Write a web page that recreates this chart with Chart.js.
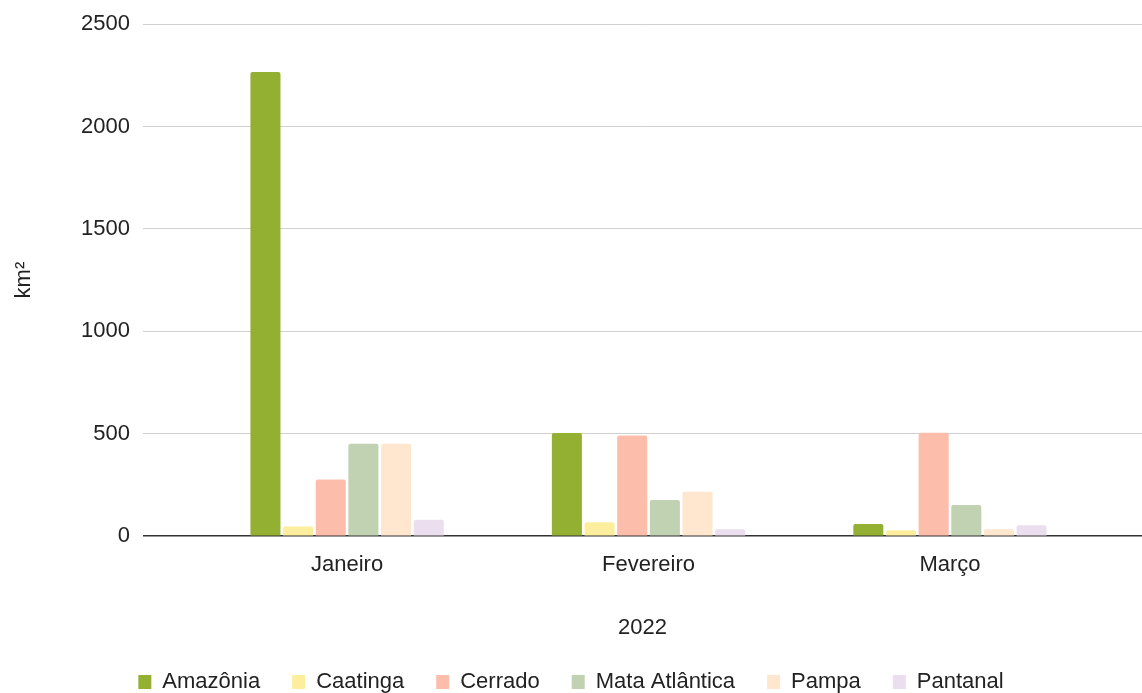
<!DOCTYPE html>
<html>
<head>
<meta charset="utf-8">
<script src="https://cdn.jsdelivr.net/npm/chart.js@4"></script>
<style>
  body { margin: 0; background: #fff; }
  #wrap { width: 1142px; height: 693px; }
</style>
</head>
<body>
<div id="wrap"><canvas id="bar-chart"></canvas></div>
<script>
const months = ["Janeiro", "Fevereiro", "Março"];
const amazonia = [2266, 504, 60];
const caatinga = [47, 68, 29];
const cerrado = [277, 492, 505];
const mataAtlantica = [451, 177, 152];
const pampa = [451, 217, 34];
const pantanal = [80, 34, 54];
const yTicks = [0, 500, 1000, 1500, 2000, 2500];

const toPoints = (values) => values.map((v, i) => ({ x: i, y: v }));

const series = [
  { label: "Amazônia", values: amazonia, color: "#93b033" },
  { label: "Caatinga", values: caatinga, color: "#fdee9e" },
  { label: "Cerrado", values: cerrado, color: "#fdbdab" },
  { label: "Mata Atlântica", values: mataAtlantica, color: "#c0d2b1" },
  { label: "Pampa", values: pampa, color: "#fee6cf" },
  { label: "Pantanal", values: pantanal, color: "#ebdeee" },
];

Chart.defaults.font.family = "'Liberation Sans', Arial, sans-serif";
Chart.defaults.font.size = 22;
Chart.defaults.color = "#222";

new Chart("bar-chart", {
  type: "bar",
  data: {
    datasets: series.map(s => ({
      label: s.label,
      data: toPoints(s.values),
      backgroundColor: s.color,
      borderRadius: 2,
      categoryPercentage: 0.65,
      barPercentage: 0.92,
    }))
  },
  options: {
    animation: false,
    responsive: true,
    maintainAspectRatio: false,
    layout: {
      padding: { left: 0, right: 0, top: 10, bottom: -10 }
    },
    scales: {
      x: {
        type: "linear",
        min: -0.677,
        max: 2.637,
        offset: false,
        afterBuildTicks: (axis) => {
          axis.ticks = months.map((m, i) => ({ value: i }));
        },
        ticks: {
          callback: (v) => months[v],
          padding: 8,
          maxRotation: 0,
          autoSkip: false,
        },
        grid: { display: false },
        border: { display: false },
        title: {
          display: true,
          text: "2022",
          padding: { top: 28, bottom: -2 },
        }
      },
      y: {
        min: 0,
        max: 2500,
        afterBuildTicks: (axis) => {
          axis.ticks = yTicks.map(v => ({ value: v }));
        },
        afterFit: (axis) => {
          axis.width = 143;
        },
        ticks: {
          callback: (v) => String(v),
          padding: 13,
          font: { lineHeight: 1 },
        },
        grid: {
          color: (ctx) => ctx.tick && ctx.tick.value === 0 ? "#333" : "#d0d0d0",
          lineWidth: (ctx) => ctx.tick && ctx.tick.value === 0 ? 1.5 : 1,
          drawTicks: false,
        },
        border: { display: false },
        title: {
          display: true,
          text: "km²",
          padding: { top: 11, bottom: 0 },
        }
      }
    },
    plugins: {
      legend: {
        position: "bottom",
        labels: {
          boxWidth: 13,
          boxHeight: 14,
          padding: 32,
        }
      },
      tooltip: { enabled: false }
    }
  }
});
</script>
</body>
</html>
